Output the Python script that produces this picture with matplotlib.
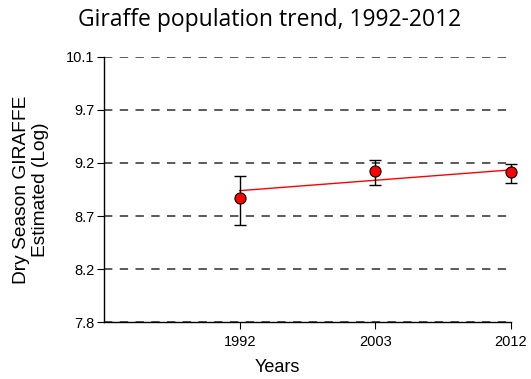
import numpy as np
import matplotlib
matplotlib.use("Agg")
import matplotlib.pyplot as plt

# Survey years and log-estimated dry season counts
years = ["1992", "2003", "2012"]
est = [8.88, 9.11, 9.10]
err_lo = [8.64, 8.99, 9.01]
err_hi = [9.07, 9.21, 9.17]
trend_years = ["1992", "2012"]
trend = [8.94, 9.12]

ytick_labels = ["7.8", "8.2", "8.7", "9.2", "9.7", "10.1"]

plt.rcParams["font.family"] = ["Liberation Sans", "DejaVu Sans"]

fig = plt.figure(figsize=(5.31, 3.79), dpi=100)
ax = fig.add_axes([0.196, 0.150, 0.766, 0.700])

xpos = {y: i for i, y in enumerate(years)}
x = np.array([xpos[y] for y in years])
est = np.array(est)
yerr = np.vstack([est - np.array(err_lo), np.array(err_hi) - est])

yticks = np.linspace(7.8, 10.1, len(ytick_labels))
for yt in yticks:
    ax.axhline(yt, color="#5a5a5a", lw=1.4, ls=(0, (4.3, 3.8)), zorder=1)

ax.plot([xpos[y] for y in trend_years], trend, color="red", lw=1.0, zorder=3)
ax.errorbar(x, est, yerr=yerr, fmt="none", ecolor="black", elinewidth=1.0,
            capsize=4, capthick=1.0, zorder=4, clip_on=False)
ax.plot(x, est, "o", ms=8, mfc="red", mec="black", mew=0.8, zorder=5,
        clip_on=False)

ax.set_xlim(-1, 2)
ax.set_ylim(7.8, 10.1)
ax.set_yticks(yticks)
ax.set_yticklabels(ytick_labels)
ax.set_xticks(x)
ax.set_xticklabels(years)
ax.tick_params(labelsize=10.5, length=5, width=0.8, color="black")
ax.tick_params(axis="x", pad=4)
ax.tick_params(axis="y", pad=2)

for s in ["top", "right"]:
    ax.spines[s].set_visible(False)
ax.spines["left"].set_linewidth(1.0)
ax.spines["bottom"].set_linewidth(1.0)

ax.set_xlabel("Years", fontsize=13)
ax.xaxis.set_label_coords(0.425, -0.14)
ax.set_ylabel("Dry Season GIRAFFE\nEstimated (Log)", fontsize=13.8, labelpad=12)
fig.text(0.507, 0.946, "Giraffe population trend, 1992-2012",
         ha="center", va="center", fontsize=16.5, family="Open Sans")

fig.savefig("out.png", dpi=100)
